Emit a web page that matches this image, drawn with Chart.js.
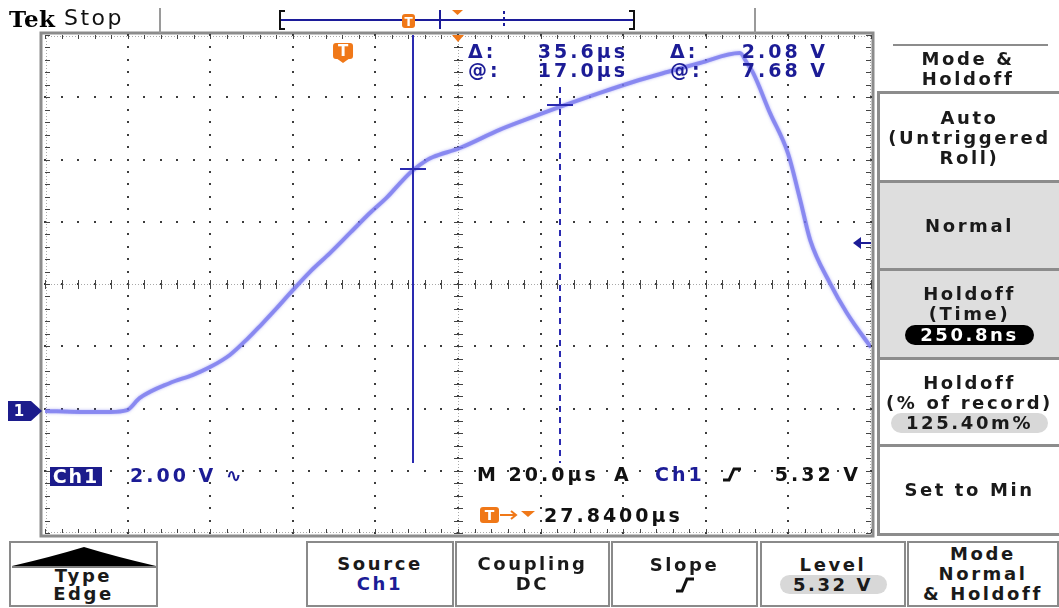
<!DOCTYPE html>
<html>
<head>
<meta charset="utf-8">
<script src="https://cdn.jsdelivr.net/npm/chart.js@4.4.0/dist/chart.umd.min.js"></script>
<style>
html, body { margin: 0; padding: 0; background: #fff; }
#tela { position: relative; width: 1059px; height: 608px; overflow: hidden; font-family: "DejaVu Sans", sans-serif; }
#grafico { position: absolute; left: 0; top: 0; }
.txt { position: absolute; white-space: nowrap; line-height: 20px; height: 20px; }
.ro { font-weight: bold; font-size: 19px; letter-spacing: 3px; color: #1c1c96; }
.preto { color: #111; }
.caixa { position: absolute; box-sizing: border-box; display: flex; flex-direction: column; justify-content: center;
         align-items: center; font-weight: bold; font-size: 18px; letter-spacing: 2.6px; color: #1a1a1a; line-height: 20px; }
.lado { left: 877px; width: 182px; border-top: 3px solid #8c8c8c; border-left: 3px solid #8c8c8c; }
.cinza { background: #dedede; }
.baixo { top: 541px; height: 66px; border: 2px solid #8a8a8a; background: #fff; }
.pilula { border-radius: 11px; height: 20px; line-height: 20px; text-align: center; }
</style>
</head>
<body>
<div id="tela">
  <canvas id="grafico" width="1059" height="608"></canvas>

  <!-- barra superior -->
  <svg style="position:absolute;left:0;top:0" width="1059" height="34">
    <line x1="160" y1="8" x2="160" y2="33" stroke="#9a9a9a" stroke-width="2"/>
    <line x1="755" y1="8" x2="755" y2="33" stroke="#9a9a9a" stroke-width="2"/>
    <line x1="281" y1="20" x2="633" y2="20" stroke="#1c1c9a" stroke-width="2"/>
    <path d="M285 11 L280 11 L280 29 L285 29" fill="none" stroke="#111" stroke-width="2"/>
    <path d="M629 11 L634 11 L634 29 L629 29" fill="none" stroke="#111" stroke-width="2"/>
    <line x1="440" y1="10" x2="440" y2="29" stroke="#1c1c9a" stroke-width="2"/>
    <line x1="504" y1="11" x2="504" y2="29" stroke="#1c1c9a" stroke-width="2" stroke-dasharray="3,3"/>
    <rect x="402" y="14" width="13" height="14" rx="3" fill="#f07818"/>
    <text x="408.5" y="26" font-family="DejaVu Sans" font-weight="bold" font-size="12" fill="#fff" text-anchor="middle">T</text>
    <path d="M452 10 L463 10 L457.5 15 Z" fill="#f07818"/>
  </svg>
  <div class="txt" style="left:9px;top:7px;font-family:'DejaVu Serif',serif;font-weight:bold;font-size:23px;letter-spacing:0.5px;height:24px;line-height:24px;">Tek</div>
  <div class="txt" style="left:64px;top:6px;font-size:22px;letter-spacing:2.5px;height:24px;line-height:24px;color:#111;">Stop</div>

  <!-- leituras dos cursores -->
  <div class="txt ro" style="left:468px;top:41px;">&Delta;:</div>
  <div class="txt ro" style="right:431px;top:41px;">35.6µs</div>
  <div class="txt ro" style="left:670px;top:41px;">&Delta;:</div>
  <div class="txt ro" style="right:231px;top:41px;">2.08 V</div>
  <div class="txt ro" style="left:468px;top:60px;">@:</div>
  <div class="txt ro" style="right:431px;top:60px;">17.0µs</div>
  <div class="txt ro" style="left:670px;top:60px;">@:</div>
  <div class="txt ro" style="right:231px;top:60px;">7.68 V</div>

  <!-- canal e base de tempo -->
  <div class="txt ro" style="left:50px;top:467px;width:52px;height:19px;line-height:19px;background:#1c1c8c;color:#fff;letter-spacing:2px;text-align:center;">Ch1</div>
  <div class="txt ro" style="left:130px;top:465px;">2.00 V ∿</div>
  <div class="txt ro preto" style="left:477px;top:464px;">M 20.0µs</div>
  <div class="txt ro preto" style="left:614px;top:464px;">A</div>
  <div class="txt ro" style="left:655px;top:464px;">Ch1</div>
  <svg style="position:absolute;left:722px;top:466px" width="20" height="17">
    <path d="M1 14 L7 14 L12 3 L19 3" fill="none" stroke="#111" stroke-width="3"/>
  </svg>
  <div class="txt ro preto" style="right:198px;top:464px;">5.32 V</div>
  <svg style="position:absolute;left:479px;top:506px" width="60" height="18">
    <rect x="1" y="1" width="19" height="16" rx="3" fill="#f07818"/>
    <text x="10.5" y="14" font-family="DejaVu Sans" font-weight="bold" font-size="14" fill="#fff" text-anchor="middle">T</text>
    <line x1="21" y1="9" x2="36" y2="9" stroke="#f07818" stroke-width="2"/>
    <path d="M32 5 L37 9 L32 13" fill="none" stroke="#f07818" stroke-width="2"/>
    <path d="M42 5 L56 5 L49 11 Z" fill="#f07818"/>
  </svg>
  <div class="txt ro preto" style="left:544px;top:505px;">27.8400µs</div>

  <!-- menu lateral -->
  <div style="position:absolute;left:893px;top:44px;width:155px;height:2px;background:#8c8c8c;"></div>
  <div class="caixa" style="left:877px;top:49px;width:182px;height:40px;"><div>Mode &amp;</div><div>Holdoff</div></div>
  <div class="caixa lado" style="top:91px;height:90px;"><div>Auto</div><div>(Untriggered</div><div>Roll)</div></div>
  <div class="caixa lado cinza" style="top:180px;height:89px;"><div>Normal</div></div>
  <div class="caixa lado cinza" style="top:268px;height:90px;"><div>Holdoff</div><div>(Time)</div>
    <div class="pilula" style="width:129px;background:#000;color:#fff;margin-top:1px;">250.8ns</div></div>
  <div class="caixa lado" style="top:357px;height:88px;"><div>Holdoff</div><div>(% of record)</div>
    <div class="pilula" style="width:157px;background:#d8d8d8;">125.40m%</div></div>
  <div class="caixa lado" style="top:444px;height:92px;border-bottom:3px solid #8c8c8c;"><div>Set to Min</div></div>

  <!-- botões inferiores -->
  <div class="caixa baixo" style="left:9px;width:149px;justify-content:flex-end;padding-bottom:2px;">
    <svg style="position:absolute;left:0;top:2px" width="145" height="24">
      <path d="M1 21 Q40 12 73 2 Q106 12 145 21 Z" fill="#000"/>
      <line x1="1" y1="22" x2="145" y2="22" stroke="#000" stroke-width="1"/>
    </svg>
    <div style="line-height:18px;">Type</div><div style="line-height:18px;">Edge</div></div>
  <div class="caixa baixo" style="left:306px;width:148px;"><div>Source</div><div style="color:#1c1c96;">Ch1</div></div>
  <div class="caixa baixo" style="left:455px;width:155px;"><div>Coupling</div><div>DC</div></div>
  <div class="caixa baixo" style="left:611px;width:147px;"><div>Slope</div>
    <svg width="20" height="18" style="margin-top:1px"><path d="M1 15 L7 15 L12 3 L19 3" fill="none" stroke="#111" stroke-width="3"/></svg></div>
  <div class="caixa baixo" style="left:760px;width:146px;"><div>Level</div>
    <div class="pilula" style="width:107px;height:19px;line-height:19px;background:#d8d8d8;">5.32 V</div></div>
  <div class="caixa baixo cinza" style="left:907px;width:152px;"><div>Mode</div><div>Normal</div><div>&amp; Holdoff</div></div>
</div>

<script>
// Escalas do osciloscópio: 20 µs/div (10 div) e 2 V/div (8 div)
const eixoTempoUs = [-72.16, 127.84];
const eixoTensaoV = [-4, 12];

// Forma de onda do canal 1 (tempo relativo ao trigger, em µs)
const tempoUs = [-72.16, -63.7, -56.4, -52.3, -49.2, -41.9, -36.3, -32.2, -27.4, -23.2, -20.1, -16.0,
  -12.1, -8.0, -3.1, 1.7, 6.5, 10.7, 14.5, 17.0, 20.3, 21.8, 28.3, 38.0, 46.0, 52.5, 62.2, 70.2, 78.5,
  86.4, 96.1, 97.8, 99.3, 103.4, 107.7, 110.7, 113.1, 117.9, 122.0, 127.1, 127.84];
const tensaoV = [-0.08, -0.11, -0.11, -0.05, 0.34, 0.82, 1.08, 1.33, 1.72, 2.23, 2.65, 3.23,
  3.81, 4.39, 5.00, 5.64, 6.28, 6.79, 7.34, 7.66, 7.98, 8.08, 8.37, 8.96, 9.37, 9.69, 10.14, 10.49, 10.81,
  11.10, 11.42, 11.10, 10.78, 9.49, 8.21, 6.70, 5.42, 4.03, 3.07, 2.10, 1.97];

// Cursores (solido e tracejado) e nível de trigger
const cursorTempoUs = [17.0, 52.6];
const cursorTensaoV = [7.68, 9.76];
const nivelTriggerV = 5.32;

// Plugin que desenha a moldura, a retícula e os marcadores da tela
const telaTek = {
    id: 'telaTek',
    beforeDatasetsDraw(chart) {
        const { ctx, chartArea: a } = chart;
        const dx = (a.right - a.left) / 10, dy = (a.bottom - a.top) / 8;
        const cx = Math.round(a.left + 5 * dx), cy = Math.round(a.top + 4 * dy);
        ctx.save();
        // moldura
        ctx.strokeStyle = '#8c8c8c';
        ctx.lineWidth = 3;
        ctx.strokeRect(a.left - 4, a.top - 2, a.right - a.left + 6, a.bottom - a.top + 5);

        // pontos finos nas linhas centrais e nas bordas
        ctx.fillStyle = '#a8a8a8';
        for (let px = a.left; px <= a.right; px += 3) {
            ctx.fillRect(px, cy, 1, 1);
            ctx.fillRect(px, a.top + 1, 1, 1);
            ctx.fillRect(px, a.bottom - 1, 1, 1);
        }
        for (let py = a.top; py <= a.bottom; py += 3) {
            ctx.fillRect(cx, py, 1, 1);
            ctx.fillRect(a.left + 1, py, 1, 1);
            ctx.fillRect(a.right - 1, py, 1, 1);
        }

        // pontos da retícula
        ctx.fillStyle = '#3c3c3c';
        for (let i = 1; i < 10; i++) {
            const px = Math.round(a.left + i * dx);
            for (let j = 0; j <= 40; j++) {
                ctx.fillRect(px - 1, Math.round(a.top + j * dy / 5) - 1, 2, 2);
            }
        }
        for (let j = 1; j < 8; j++) {
            const py = Math.round(a.top + j * dy);
            for (let i = 0; i <= 50; i++) {
                ctx.fillRect(Math.round(a.left + i * dx / 5) - 1, py - 1, 2, 2);
            }
        }

        // marcas de subdivisão
        ctx.fillStyle = '#444';
        for (let i = 0; i <= 50; i++) {
            const px = Math.round(a.left + i * dx / 5);
            ctx.fillRect(px, cy - 4, 1, 9);
            ctx.fillRect(px, a.top, 1, 4);
            ctx.fillRect(px, a.bottom - 4, 1, 4);
        }
        for (let j = 0; j <= 40; j++) {
            const py = Math.round(a.top + j * dy / 5);
            ctx.fillRect(cx - 4, py, 9, 1);
            ctx.fillRect(a.left, py, 5, 1);
            ctx.fillRect(a.right - 5, py, 5, 1);
        }
        ctx.restore();
    },
    beforeDatasetDraw(chart) {
        // leve desfoque para imitar o traço do osciloscópio
        chart.ctx.save();
        chart.ctx.shadowColor = 'rgba(110,110,240,0.7)';
        chart.ctx.shadowBlur = 3;
    },
    afterDatasetDraw(chart) {
        chart.ctx.restore();
    },
    afterDatasetsDraw(chart) {
        const { ctx, chartArea: a, scales: { x, y } } = chart;
        ctx.save();
        const azul = '#2a2ab0';
        ctx.strokeStyle = azul;
        ctx.lineWidth = 2;

        // cursor sólido
        const x1 = Math.round(x.getPixelForValue(cursorTempoUs[0]));
        ctx.beginPath();
        ctx.moveTo(x1, a.top);
        ctx.lineTo(x1, a.bottom - 70);
        ctx.stroke();
        // cursor tracejado
        const x2 = Math.round(x.getPixelForValue(cursorTempoUs[1]));
        ctx.setLineDash([6, 5]);
        ctx.beginPath();
        ctx.moveTo(x2, a.top + 52);
        ctx.lineTo(x2, a.bottom - 70);
        ctx.stroke();
        ctx.setLineDash([]);
        // cruzes nos pontos medidos
        [0, 1].forEach(i => {
            const px = Math.round(x.getPixelForValue(cursorTempoUs[i]));
            const py = Math.round(y.getPixelForValue(cursorTensaoV[i]));
            ctx.beginPath();
            ctx.moveTo(px - 13, py);
            ctx.lineTo(px + 13, py);
            ctx.stroke();
        });

        // marcador de trigger (T laranja)
        const xt = x.getPixelForValue(0);
        ctx.fillStyle = '#f07818';
        ctx.beginPath();
        ctx.roundRect(xt - 10, a.top + 8, 20, 16, 3);
        ctx.fill();
        ctx.beginPath();
        ctx.moveTo(xt - 7, a.top + 23);
        ctx.lineTo(xt + 7, a.top + 23);
        ctx.lineTo(xt, a.top + 28);
        ctx.fill();
        ctx.fillStyle = '#fff';
        ctx.font = 'bold 15px "DejaVu Sans"';
        ctx.textAlign = 'center';
        ctx.textBaseline = 'middle';
        ctx.fillText('T', xt, a.top + 17);

        // posição horizontal (triângulo no centro)
        const xc = (a.left + a.right) / 2;
        ctx.fillStyle = '#f07818';
        ctx.beginPath();
        ctx.moveTo(xc - 6, a.top);
        ctx.lineTo(xc + 6, a.top);
        ctx.lineTo(xc, a.top + 7);
        ctx.fill();

        // nível de trigger (seta na direita)
        const yl = Math.round(y.getPixelForValue(nivelTriggerV));
        ctx.fillStyle = '#1c1c96';
        ctx.beginPath();
        ctx.moveTo(a.right - 18, yl);
        ctx.lineTo(a.right - 10, yl - 6);
        ctx.lineTo(a.right - 10, yl + 6);
        ctx.fill();
        ctx.fillRect(a.right - 10, yl - 1, 10, 2);

        // referência de terra do canal 1
        const y0 = Math.round(y.getPixelForValue(0)) + 2;
        ctx.fillStyle = '#1c1c8c';
        ctx.beginPath();
        ctx.moveTo(8, y0 - 10);
        ctx.lineTo(31, y0 - 10);
        ctx.lineTo(a.left - 3, y0);
        ctx.lineTo(31, y0 + 10);
        ctx.lineTo(8, y0 + 10);
        ctx.fill();
        ctx.fillStyle = '#fff';
        ctx.fillText('1', 19, y0 + 1);
        ctx.restore();
    }
};

// Gráfico da forma de onda
var ctx1 = document.getElementById('grafico').getContext('2d');
new Chart(ctx1, {
    type: 'line',
    data: {
        datasets: [{
            data: tempoUs.map((t, i) => ({ x: t, y: tensaoV[i] })),
            borderColor: 'rgba(118,118,238,0.75)',
            borderWidth: 4,
            pointRadius: 0,
            cubicInterpolationMode: 'monotone',
            fill: false
        }]
    },
    options: {
        responsive: false,
        animation: false,
        events: [],
        layout: { padding: { left: 45, top: 35, right: 188, bottom: 75 } },
        plugins: { legend: { display: false }, tooltip: { enabled: false } },
        scales: {
            x: { type: 'linear', min: eixoTempoUs[0], max: eixoTempoUs[1], display: false },
            y: { min: eixoTensaoV[0], max: eixoTensaoV[1], display: false }
        }
    },
    plugins: [telaTek]
});
</script>
</body>
</html>
